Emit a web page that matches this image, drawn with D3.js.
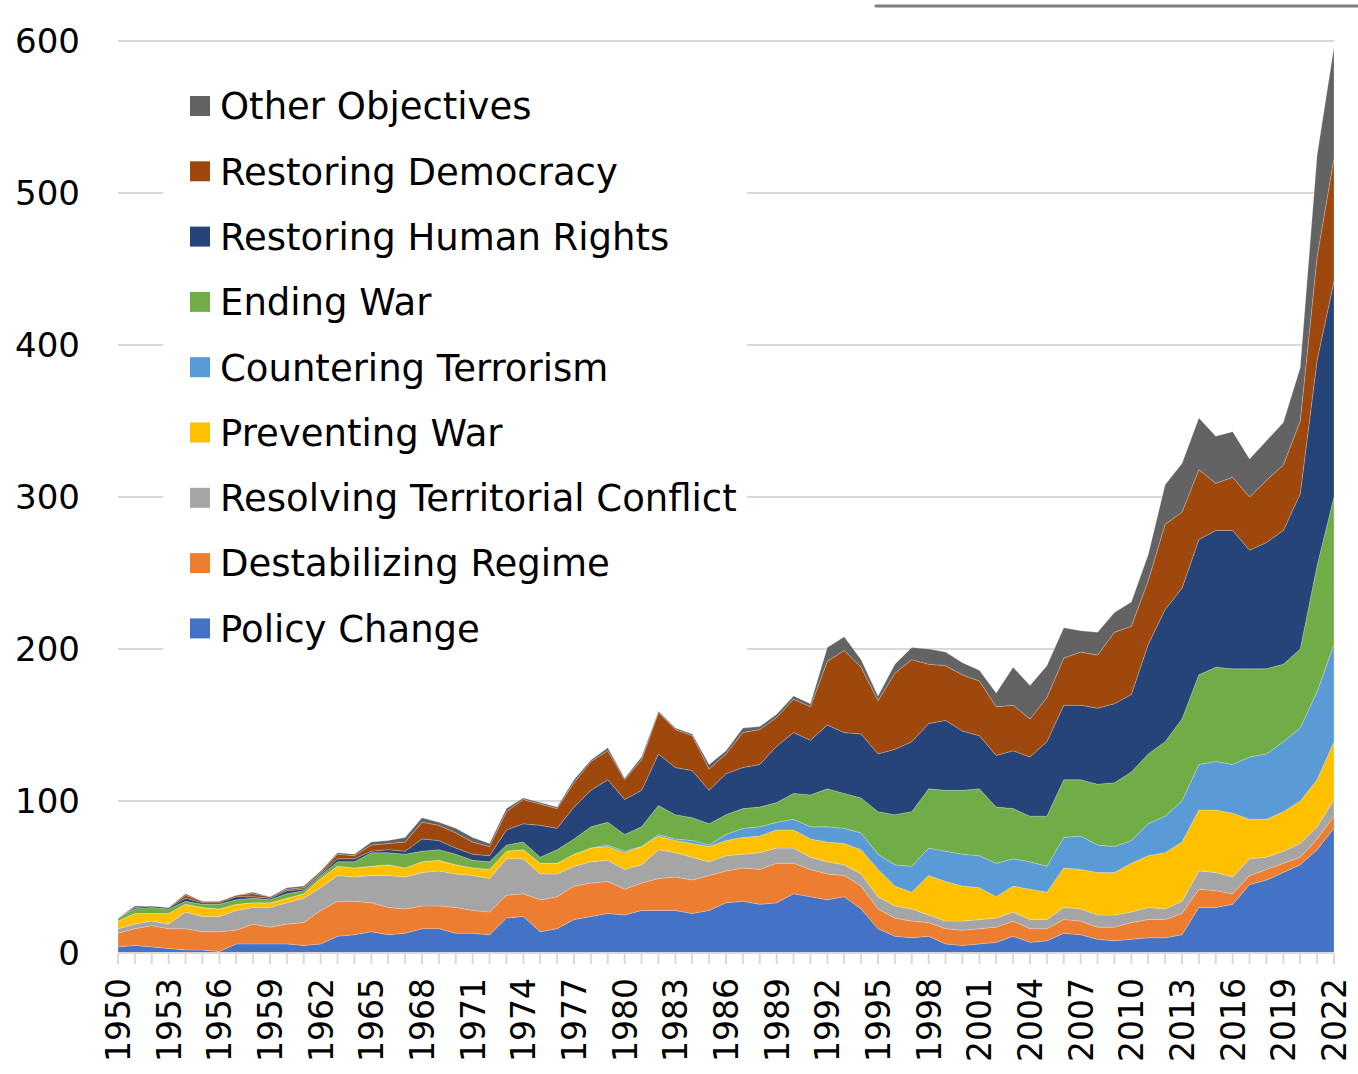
<!DOCTYPE html>
<html>
<head>
<meta charset="utf-8">
<script src="https://cdn.jsdelivr.net/npm/d3@7"></script>
<style>
  body { margin: 0; background: #fff; }
  svg { display: block; }
</style>
</head>
<body>
<svg width="1358" height="1074"></svg>
<script>
// years on the x axis
const years = d3.range(1950, 2023)

// series, bottom to top of the stack
const seriesNames = ["Policy Change", "Destabilizing Regime", "Resolving Territorial Conflict",
  "Preventing War", "Countering Terrorism", "Ending War", "Restoring Human Rights",
  "Restoring Democracy", "Other Objectives"]

const seriesColors = ["#4472C4", "#ED7D31", "#A5A5A5", "#FFC000", "#5B9BD5",
  "#70AD47", "#264478", "#9E480E", "#636363"]

const policyChange = [4,5,4,3,2,2,1,6,6,6,6,5,6,11,12,14,12,13,16,16,13,13,12,23,24,14,16,22,24,26,
  25,28,28,28,26,28,33,34,32,33,39,37,35,37,29,16,11,10,11,6,5,6,7,11,7,8,13,12,9,8,
  9,10,10,12,30,30,32,45,48,53,58,68,82]
const destabilizingRegime = [9,11,14,13,14,12,13,9,13,11,13,15,22,23,22,19,18,16,15,15,17,15,15,15,15,21,21,22,22,21,
  17,18,21,22,22,23,21,22,23,26,20,18,17,14,15,13,12,11,9,10,10,10,10,10,9,8,9,9,8,9,
  11,12,12,14,12,11,7,6,7,6,5,7,8]
const territorialConflict = [3,3,3,3,11,10,10,13,11,13,14,16,15,17,16,18,21,21,22,23,22,23,22,24,23,17,15,13,14,14,
  13,12,19,16,15,9,10,9,11,10,10,8,8,7,8,8,8,8,5,5,6,6,6,6,6,6,8,8,8,8,
  7,8,7,8,12,12,11,11,8,8,9,8,11]
const preventingWar = [5,7,5,7,5,6,5,4,3,3,3,3,6,6,6,6,7,6,7,7,6,5,6,5,6,7,7,8,9,9,
  11,12,9,8,9,10,10,11,11,12,12,12,13,14,16,18,13,11,26,26,23,21,14,17,20,18,26,26,28,28,
  32,34,37,39,40,41,42,26,25,26,28,31,38]
const counteringTerrorism = [0,0,0,0,0,0,0,0,0,0,0,0,0,0,0,0,0,0,0,0,0,0,0,0,0,0,0,0,0,1,
  1,0,1,1,2,1,4,6,6,5,7,8,10,10,11,10,14,17,18,20,21,21,22,18,18,17,20,22,18,17,
  15,21,24,27,30,32,32,41,43,46,48,58,64]
const endingWar = [2,3,4,3,2,2,3,3,3,2,3,2,2,3,4,9,8,9,7,7,7,5,5,4,5,4,9,10,14,15,
  11,13,19,16,15,14,13,13,13,13,17,21,25,23,23,28,33,36,39,40,42,44,37,33,30,33,38,37,40,42,
  45,46,49,54,59,62,63,58,56,51,52,83,97]
const humanRights = [0,1,1,1,2,1,1,2,1,1,2,1,1,2,2,1,2,2,8,6,4,4,4,10,12,21,14,21,24,28,
  23,24,34,31,31,22,27,27,28,37,40,36,42,40,42,38,43,46,43,46,39,35,34,38,39,49,49,49,50,52,
  51,72,87,86,89,90,91,78,83,88,102,135,142]
const restoringDemocracy = [0,0,0,0,2,1,1,1,2,1,1,1,1,3,2,4,4,6,11,10,10,8,6,12,16,14,13,16,19,19,
  13,20,27,25,23,14,13,23,23,19,22,22,42,54,44,35,50,54,39,36,37,36,32,30,25,29,31,35,35,47,
  45,42,56,50,46,31,35,35,41,43,48,68,81]
const otherObjectives = [0,1,0,0,1,0,0,0,1,0,1,1,1,1,1,2,2,3,3,2,3,3,2,2,1,1,1,2,1,2,
  1,2,1,1,1,3,2,3,2,2,2,2,9,9,5,3,6,8,10,9,8,7,9,25,22,21,20,14,15,13,
  16,17,26,32,34,31,30,25,26,28,35,67,73]

const seriesValues = [policyChange, destabilizingRegime, territorialConflict, preventingWar,
  counteringTerrorism, endingWar, humanRights, restoringDemocracy, otherObjectives]

const yTicks = [0, 100, 200, 300, 400, 500, 600]
const xLabelYears = years.filter(y => (y - 1950) % 3 == 0)

// build rows for d3.stack
const rows = years.map((yr, i) => {
  let row = { year: yr }
  seriesNames.forEach((name, s) => { row[name] = seriesValues[s][i] })
  return row
})

const svg = d3.select("svg")
const font = "'DejaVu Sans', sans-serif"

const x = d3.scalePoint()
  .domain(years)
  .range([118, 1334])

const y = d3.scaleLinear()
  .domain([0, 600])
  .range([953, 41])

// the thin frame line at the top right
svg.append("line")
  .attr("x1", 876).attr("x2", 1358)
  .attr("y1", 6).attr("y2", 6)
  .attr("stroke", "#7f7f7f")
  .attr("stroke-width", 3)
  .attr("stroke-linecap", "round")

// gridlines
svg.append("g")
  .selectAll("line")
  .data(yTicks.filter(t => t > 0))
  .join("line")
    .attr("x1", 118).attr("x2", 1334)
    .attr("y1", d => y(d)).attr("y2", d => y(d))
    .attr("stroke", "#d9d9d9")
    .attr("stroke-width", 2)

const stack = d3.stack().keys(seriesNames)
const layers = stack(rows)

const area = d3.area()
  .x(d => x(d.data.year))
  .y0(d => y(d[0]))
  .y1(d => y(d[1]))

svg.append("g")
  .selectAll("path")
  .data(layers)
  .join("path")
    .attr("d", area)
    .attr("fill", (d, i) => seriesColors[i])
    .attr("stroke", "#ffffff")
    .attr("stroke-opacity", 0.35)
    .attr("stroke-width", 0.6)

// x axis line and small ticks
svg.append("line")
  .attr("x1", 118).attr("x2", 1334)
  .attr("y1", 953).attr("y2", 953)
  .attr("stroke", "#d9d9d9")
  .attr("stroke-width", 2)

svg.append("g")
  .selectAll("line")
  .data(years)
  .join("line")
    .attr("x1", d => x(d)).attr("x2", d => x(d))
    .attr("y1", 953).attr("y2", 964)
    .attr("stroke", "#d9d9d9")
    .attr("stroke-width", 2)

// x labels, rotated
svg.append("g")
  .selectAll("text")
  .data(xLabelYears)
  .join("text")
    .attr("transform", d => "translate(" + (x(d) + 12) + ",978) rotate(-90)")
    .attr("text-anchor", "end")
    .style("font-family", font)
    .style("font-size", "33px")
    .style("fill", "#000")
    .text(d => d)

// y labels
svg.append("g")
  .selectAll("text")
  .data(yTicks)
  .join("text")
    .attr("x", 80)
    .attr("y", d => y(d))
    .attr("dy", "0.36em")
    .attr("text-anchor", "end")
    .style("font-family", font)
    .style("font-size", "34px")
    .style("fill", "#000")
    .text(d => d)

// legend, top series first
const legend = svg.append("g")

legend.append("rect")
  .attr("x", 163).attr("y", 66)
  .attr("width", 584).attr("height", 600)
  .attr("fill", "#fff")

const legendOrder = d3.range(seriesNames.length).reverse()

const item = legend.selectAll("g")
  .data(legendOrder)
  .join("g")
    .attr("transform", (d, i) => "translate(190," + (106 + i * 65.3) + ")")

item.append("rect")
  .attr("x", 0).attr("y", -10)
  .attr("width", 20).attr("height", 20)
  .attr("fill", d => seriesColors[d])

item.append("text")
  .attr("x", 30)
  .attr("dy", "0.36em")
  .style("font-family", font)
  .style("font-size", "37px")
  .style("fill", "#000")
  .text(d => seriesNames[d])
</script>
</body>
</html>
